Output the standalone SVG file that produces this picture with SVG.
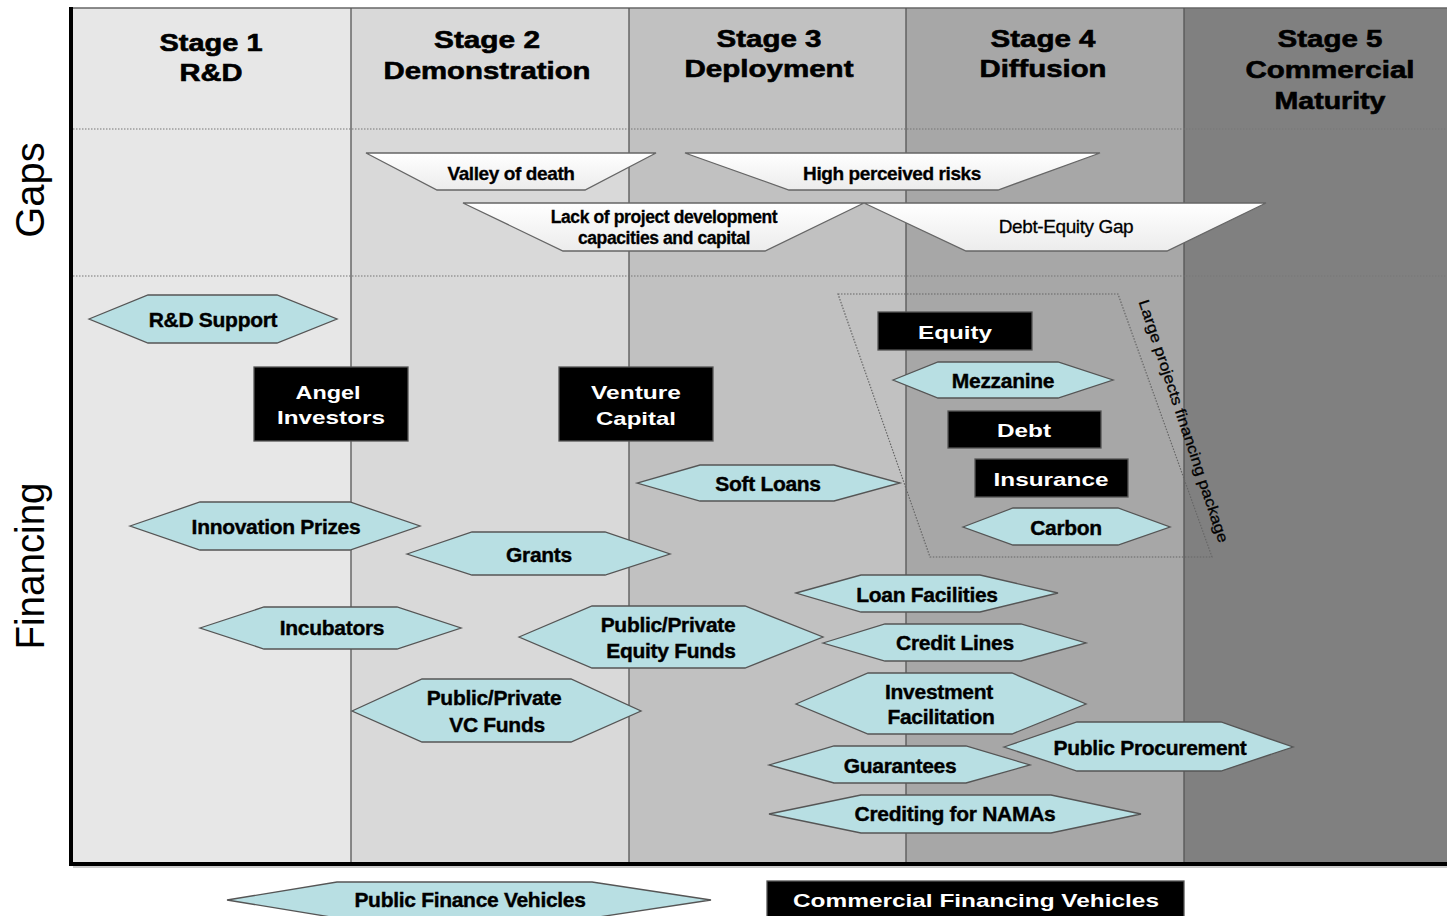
<svg xmlns="http://www.w3.org/2000/svg" width="1447" height="916" viewBox="0 0 1447 916">
<defs>
<linearGradient id="gapGrad" x1="0" y1="0" x2="0" y2="1">
<stop offset="0" stop-color="#ffffff"/>
<stop offset="1" stop-color="#ececec"/>
</linearGradient>
</defs>
<style>
.hdr{font-family:"Liberation Sans",Arial,sans-serif;font-weight:bold;font-size:24px;fill:#000;stroke:#000;stroke-width:0.6px;text-anchor:middle}
.axis{font-family:"Liberation Sans",Arial,sans-serif;font-size:40px;fill:#000;text-anchor:middle}
.hex{fill:#b8dfe3;stroke:#555;stroke-width:1.3}
.hl{font-family:"Liberation Sans",Arial,sans-serif;font-weight:bold;font-size:21px;fill:#000;stroke:#000;stroke-width:0.4px;text-anchor:middle;letter-spacing:-0.3px}
.blk{fill:#000;stroke:#555;stroke-width:1.3}
.wl{font-family:"Liberation Sans",Arial,sans-serif;font-weight:bold;font-size:19px;fill:#fff;text-anchor:middle}
.gap{fill:url(#gapGrad);stroke:#666;stroke-width:1.3}
.gl{font-family:"Liberation Sans",Arial,sans-serif;font-weight:bold;font-size:19px;fill:#000;stroke:#000;stroke-width:0.3px;text-anchor:middle;letter-spacing:-0.4px}
.dot{stroke:#777;stroke-width:1.2;stroke-dasharray:1.5 1.5;fill:none}
.sep{stroke:#555;stroke-width:1.3}
</style>
<rect width="1447" height="916" fill="#fff"/>
<g id="background">
<rect x="73" y="8" width="278" height="855" fill="#e7e7e7"/>
<rect x="351" y="8" width="278" height="855" fill="#d9d9d9"/>
<rect x="629" y="8" width="277" height="855" fill="#c1c1c1"/>
<rect x="906" y="8" width="278" height="855" fill="#a7a7a7"/>
<rect x="1184" y="8" width="263" height="855" fill="#808080"/>
<line x1="71" y1="8" x2="1447" y2="8" stroke="#666" stroke-width="1.5"/>
<line class="sep" x1="351" y1="8" x2="351" y2="863"/>
<line class="sep" x1="629" y1="8" x2="629" y2="863"/>
<line class="sep" x1="906" y1="8" x2="906" y2="863"/>
<line class="sep" x1="1184" y1="8" x2="1184" y2="863"/>
<line class="dot" x1="73" y1="129" x2="1447" y2="129"/>
<line class="dot" x1="73" y1="276" x2="1447" y2="276"/>
<line x1="71" y1="7" x2="71" y2="866" stroke="#000" stroke-width="4"/>
<line x1="69" y1="864" x2="1447" y2="864" stroke="#000" stroke-width="4"/>
<line x1="73" y1="867" x2="1447" y2="867" stroke="#999" stroke-width="1"/>
</g>
<g id="headers">
<text class="hdr" x="211" y="51" textLength="103" lengthAdjust="spacingAndGlyphs">Stage 1</text>
<text class="hdr" x="211" y="81" textLength="63" lengthAdjust="spacingAndGlyphs">R&amp;D</text>
<text class="hdr" x="487" y="48" textLength="106" lengthAdjust="spacingAndGlyphs">Stage 2</text>
<text class="hdr" x="487" y="79" textLength="207" lengthAdjust="spacingAndGlyphs">Demonstration</text>
<text class="hdr" x="769" y="47" textLength="105" lengthAdjust="spacingAndGlyphs">Stage 3</text>
<text class="hdr" x="769" y="77" textLength="169" lengthAdjust="spacingAndGlyphs">Deployment</text>
<text class="hdr" x="1043" y="47" textLength="105" lengthAdjust="spacingAndGlyphs">Stage 4</text>
<text class="hdr" x="1043" y="77" textLength="127" lengthAdjust="spacingAndGlyphs">Diffusion</text>
<text class="hdr" x="1330" y="47" textLength="105" lengthAdjust="spacingAndGlyphs">Stage 5</text>
<text class="hdr" x="1330" y="78" textLength="169" lengthAdjust="spacingAndGlyphs">Commercial</text>
<text class="hdr" x="1330" y="109" textLength="111" lengthAdjust="spacingAndGlyphs">Maturity</text>
</g>
<g id="axis-labels">
<text class="axis" transform="translate(44,190) rotate(-90)">Gaps</text>
<text class="axis" transform="translate(44,566) rotate(-90)" textLength="167" lengthAdjust="spacingAndGlyphs">Financing</text>
</g>
<g id="gap-valley-of-death">
<polygon class="gap" points="366,153 656,153 585,190 437,190"/>
<text class="gl" x="511" y="180">Valley of death</text>
</g>
<g id="gap-high-perceived-risks">
<polygon class="gap" points="685,153 1100,153 998,190 789,190"/>
<text class="gl" x="892" y="180">High perceived risks</text>
</g>
<g id="gap-lack-of-project-development">
<polygon class="gap" points="463,203 864,203 765,251 563,251"/>
<text class="gl" x="664" y="223" style="font-size:17.5px">Lack of project development</text>
<text class="gl" x="664" y="244" style="font-size:17.5px">capacities and capital</text>
</g>
<g id="gap-debt-equity">
<polygon class="gap" points="864,203 1266,203 1167,251 966,251"/>
<text class="gl" x="1066" y="233" style="font-weight:normal;font-size:19px">Debt-Equity Gap</text>
</g>
<g id="large-projects-package">
<polygon points="838,294 1118,294 1212,557 930,557" fill="none" stroke="#666" stroke-width="1.2" stroke-dasharray="1.5 1.5"/>
<text transform="translate(1184,421) rotate(71.6)" font-family="'Liberation Sans',Arial,sans-serif" font-size="15" text-anchor="middle" dominant-baseline="central" textLength="255" lengthAdjust="spacingAndGlyphs" fill="#000" stroke="#000" stroke-width="0.3">Large projects financing package</text>
</g>
<g id="rd-support">
<polygon class="hex" points="89,319 148,295 277,295 337,319 277,343 148,343"/>
<text class="hl" x="213" y="327">R&amp;D Support</text>
</g>
<g id="angel-investors">
<rect class="blk" x="254" y="367" width="154" height="74"/>
<text class="wl" x="328" y="399" textLength="65" lengthAdjust="spacingAndGlyphs">Angel</text>
<text class="wl" x="331" y="424" textLength="108" lengthAdjust="spacingAndGlyphs">Investors</text>
</g>
<g id="venture-capital">
<rect class="blk" x="559" y="367" width="154" height="74"/>
<text class="wl" x="636" y="399" textLength="90" lengthAdjust="spacingAndGlyphs">Venture</text>
<text class="wl" x="636" y="425" textLength="80" lengthAdjust="spacingAndGlyphs">Capital</text>
</g>
<g id="innovation-prizes">
<polygon class="hex" points="130,526 200,502 350,502 420,526 350,550 200,550"/>
<text class="hl" x="276" y="534">Innovation Prizes</text>
</g>
<g id="grants">
<polygon class="hex" points="407,554 472,532 605,532 670,554 605,575 472,575"/>
<text class="hl" x="539" y="562">Grants</text>
</g>
<g id="soft-loans">
<polygon class="hex" points="637,483 700,465 834,465 900,483 834,501 700,501"/>
<text class="hl" x="768" y="491">Soft Loans</text>
</g>
<g id="incubators">
<polygon class="hex" points="200,628 264,607 397,607 461,628 397,649 264,649"/>
<text class="hl" x="332" y="635">Incubators</text>
</g>
<g id="public-private-equity-funds">
<polygon class="hex" points="519,637 592,606 745,606 823,637 745,668 592,668"/>
<text class="hl" x="668" y="632">Public/Private</text>
<text class="hl" x="671" y="658">Equity Funds</text>
</g>
<g id="public-private-vc-funds">
<polygon class="hex" points="352,711 422,679 571,679 641,711 571,742 422,742"/>
<text class="hl" x="494" y="705">Public/Private</text>
<text class="hl" x="497" y="732">VC Funds</text>
</g>
<g id="equity">
<rect class="blk" x="878" y="312" width="154" height="38"/>
<text class="wl" x="955" y="339" textLength="74" lengthAdjust="spacingAndGlyphs">Equity</text>
</g>
<g id="mezzanine">
<polygon class="hex" points="893,380 938,362 1058,362 1113,380 1058,398 938,398"/>
<text class="hl" x="1003" y="388">Mezzanine</text>
</g>
<g id="debt">
<rect class="blk" x="948" y="411" width="153" height="37"/>
<text class="wl" x="1024" y="437" textLength="54" lengthAdjust="spacingAndGlyphs">Debt</text>
</g>
<g id="insurance">
<rect class="blk" x="975" y="459" width="153" height="38"/>
<text class="wl" x="1051" y="486" textLength="115" lengthAdjust="spacingAndGlyphs">Insurance</text>
</g>
<g id="carbon">
<polygon class="hex" points="963,527 1013,508 1118,508 1170,527 1118,545 1013,545"/>
<text class="hl" x="1066" y="535">Carbon</text>
</g>
<g id="loan-facilities">
<polygon class="hex" points="796,593 861,575 980,575 1058,593 980,612 861,612"/>
<text class="hl" x="927" y="602">Loan Facilities</text>
</g>
<g id="credit-lines">
<polygon class="hex" points="823,643 885,624 1021,624 1086,643 1021,661 885,661"/>
<text class="hl" x="955" y="650">Credit Lines</text>
</g>
<g id="investment-facilitation">
<polygon class="hex" points="796,704 868,673 1012,673 1086,704 1012,734 868,734"/>
<text class="hl" x="939" y="699">Investment</text>
<text class="hl" x="941" y="724">Facilitation</text>
</g>
<g id="public-procurement">
<polygon class="hex" points="1004,747 1077,722 1221,722 1293,747 1221,771 1077,771"/>
<text class="hl" x="1150" y="755">Public Procurement</text>
</g>
<g id="guarantees">
<polygon class="hex" points="769,765 834,746 966,746 1030,765 966,783 834,783"/>
<text class="hl" x="900" y="773">Guarantees</text>
</g>
<g id="crediting-for-namas">
<polygon class="hex" points="769,814 861,795 1051,795 1141,814 1051,833 861,833"/>
<text class="hl" x="955" y="821">Crediting for NAMAs</text>
</g>
<g id="public-finance-vehicles">
<polygon class="hex" points="227,900 337,882 592,882 711,900 592,918 337,918"/>
<text class="hl" x="470" y="907">Public Finance Vehicles</text>
</g>
<g id="commercial-financing-vehicles">
<rect class="blk" x="767" y="881" width="417" height="40"/>
<text class="wl" x="976" y="907" textLength="366" lengthAdjust="spacingAndGlyphs">Commercial Financing Vehicles</text>
</g>
<g id="connectors"/>
</svg>
